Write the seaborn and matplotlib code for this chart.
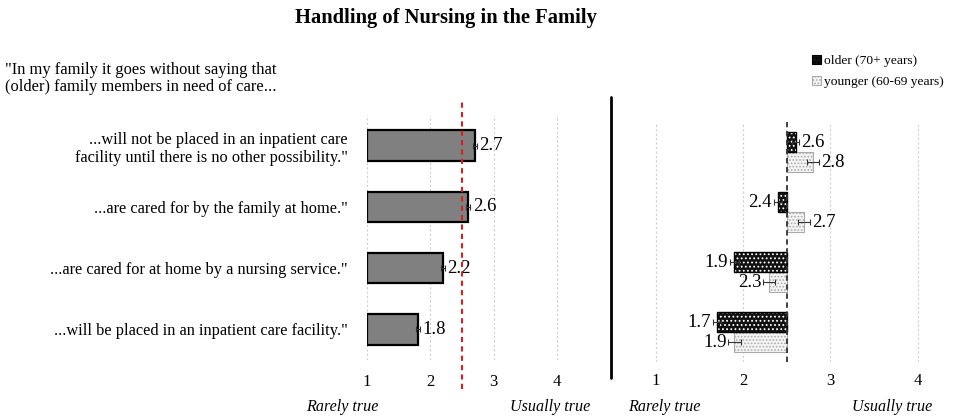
import matplotlib
matplotlib.use('Agg')
import matplotlib.pyplot as plt
import seaborn as sns
import pandas as pd
from matplotlib.patches import Patch, Rectangle
from matplotlib.lines import Line2D

# data
items = ['...will not be placed in an inpatient care\nfacility until there is no other possibility."',
         '...are cared for by the family at home."',
         '...are cared for at home by a nursing service."',
         '...will be placed in an inpatient care facility."']
total = [2.7, 2.6, 2.2, 1.8]
total_err = [0.03, 0.03, 0.03, 0.03]

groups = ['older (70+ years)', 'younger (60-69 years)']
older = [2.6, 2.4, 1.9, 1.7]
older_err = [0.04, 0.05, 0.05, 0.05]
younger = [2.8, 2.7, 2.3, 1.9]
younger_err = [0.07, 0.07, 0.07, 0.07]

ticks = [1, 2, 3, 4]
midpoint = 2.5

sns.set_style('white')
plt.rcParams['font.family'] = ['Liberation Serif', 'DejaVu Serif']
plt.rcParams['hatch.linewidth'] = 0.8
for key in ['text.color', 'xtick.color', 'ytick.color', 'axes.labelcolor']:
    plt.rcParams[key] = 'black'

fig = plt.figure(figsize=(9.57, 4.19), dpi=100)
axL = fig.add_axes([0.3835, 0.1408, 0.2316, 0.5847])
axR = fig.add_axes([0.658, 0.136, 0.3284, 0.5728])

# left panel: all respondents
df = pd.DataFrame({'item': items, 'mean': total})
sns.barplot(data=df, x='mean', y='item', orient='h', color='#808080', errorbar=None,
            edgecolor='black', linewidth=1.6, width=0.5, saturation=1, ax=axL)
for p in axL.patches:
    w = p.get_width()
    p.set_x(1)
    p.set_width(w - 1)
axL.errorbar(total, range(len(items)), xerr=total_err, fmt='none',
             ecolor='#333333', elinewidth=0.8, capsize=2, capthick=0.8)
for i, v in enumerate(total):
    axL.text(v + total_err[i] + 0.04, i, f'{v:.1f}', va='center', ha='left', fontsize=13.5)
axL.axvline(midpoint, ymin=-0.12, ymax=1.055, color='#d62020', ls=(0, (2.5, 2)), lw=1.5,
            clip_on=False, zorder=5)

# right panel: age groups, bars diverge from midpoint
long = pd.DataFrame({'item': items * 2,
                     'mean': older + younger,
                     'group': [groups[0]] * 4 + [groups[1]] * 4})
sns.barplot(data=long, x='mean', y='item', hue='group', orient='h', width=0.667,
            errorbar=None, legend=False, ax=axR, saturation=1)
styles = [dict(fc='#111111', ec='white', hatch='....', lw=0),
          dict(fc='#f5f5f5', ec='#aaaaaa', hatch='.....', lw=0.8)]
errs = [older_err, younger_err]
bar_sets = list(axR.containers)
for k, cont in enumerate(bar_sets):
    for i, bar in enumerate(cont):
        v = bar.get_width()
        bar.set_x(min(v, midpoint))
        bar.set_width(abs(v - midpoint))
        bar.set_facecolor(styles[k]['fc'])
        bar.set_edgecolor(styles[k]['ec'])
        bar.set_hatch(styles[k]['hatch'])
        bar.set_linewidth(styles[k]['lw'])
        y = bar.get_y() + bar.get_height() / 2
        if k == 0:
            axR.add_patch(Rectangle(bar.get_xy(), bar.get_width(), bar.get_height(),
                                    fill=False, ec='black', lw=1.0, zorder=3))
        e = errs[k][i]
        axR.errorbar(v, y, xerr=e, fmt='none', ecolor='#333333', elinewidth=0.8,
                     capsize=2, capthick=0.8, zorder=4)
        if v >= midpoint:
            axR.text(v + e + 0.02, y, f'{v:.1f}', va='center', ha='left', fontsize=13.5)
        else:
            axR.text(v - e - 0.02, y, f'{v:.1f}', va='center', ha='right', fontsize=13.5)
axR.axvline(midpoint, color='#333333', ls=(0, (3, 2)), lw=1.3, zorder=5)

for ax, xl, pad in [(axL, (1, 4.5), 10), (axR, (0.7, 4.3), 8)]:
    ax.set_xlim(*xl)
    ax.set_ylim(3.5, -0.5)
    ax.set_xticks(ticks)
    ax.set_xlabel('')
    ax.set_ylabel('')
    for t in ticks:
        ax.axvline(t, color='#cfcfcf', ls=(0, (2, 2)), lw=0.8, zorder=0)
    ax.tick_params(axis='x', length=0, pad=pad, labelsize=12)
    ax.tick_params(axis='y', length=0)
    for s in ax.spines.values():
        s.set_visible(False)

axL.tick_params(axis='y', pad=14, labelsize=11.8)
axR.set_yticks([])

# figure texts
fig.text(0.466, 0.957, 'Handling of Nursing in the Family', ha='center', va='center',
         fontsize=14.8, fontweight='bold')
fig.text(0.005, 1 - 62 / 419, '"In my family it goes without saying that\n(older) family members in need of care...',
         ha='left', va='top', fontsize=11.9, linespacing=1.05)
for x, s in [(342, 'Rarely true'), (550, 'Usually true'), (664, 'Rarely true'), (892, 'Usually true')]:
    fig.text(x / 957, 1 - 407 / 419, s, ha='center', va='center', fontsize=11.6, style='italic')

fig.add_artist(Line2D([611 / 957, 611 / 957], [1 - 97 / 419, 1 - 378 / 419],
                      color='black', lw=2))

handles = [Patch(facecolor='#111111', edgecolor='black', hatch='....', lw=0.8),
           Patch(facecolor='#f5f5f5', edgecolor='#aaaaaa', hatch='.....', lw=0.8)]
fig.legend(handles, groups, loc='upper left', bbox_to_anchor=(812 / 957, 1 - 55 / 419),
           frameon=False, fontsize=9.7, handlelength=0.7, handleheight=0.7,
           handletextpad=0.2, labelspacing=0.6, borderaxespad=0, borderpad=0)

fig.savefig('out.png', dpi=100)
